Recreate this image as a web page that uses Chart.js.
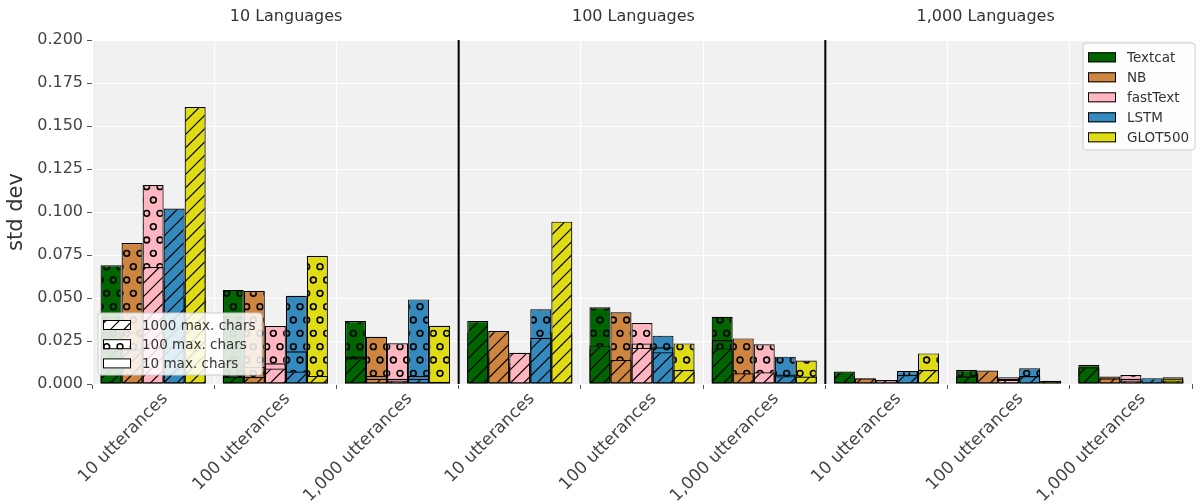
<!DOCTYPE html>
<html>
<head>
<meta charset="utf-8">
<script src="https://cdn.jsdelivr.net/npm/chart.js@4.4.1/dist/chart.umd.min.js"></script>
<style>
  html, body { margin: 0; padding: 0; background: #fff; }
  #wrap { width: 1202px; height: 503px; }
</style>
</head>
<body>
<div id="wrap"><canvas id="chart" width="1202" height="503"></canvas></div>
<script>
const categories = [
    '10 utterances', '100 utterances', '1,000 utterances',
    '10 utterances', '100 utterances', '1,000 utterances',
    '10 utterances', '100 utterances', '1,000 utterances'
];
const panelTitles = ['10 Languages', '100 Languages', '1,000 Languages'];
const models = ['Textcat', 'NB', 'fastText', 'LSTM', 'GLOT500'];
const modelColors = ['#006400', '#cd853f', '#ffb6c1', '#348abd', '#e0dc14'];
const charLabels = ['1000 max. chars', '100 max. chars', '10 max. chars'];

// std dev per category. *1000 = hatched, *100 = circles, *10 = outline only
const textcat1000 = [0.022, 0.004, 0.015, 0.0366, 0.0223, 0.0207, 0.0072, 0.0045, 0.0097];
const textcat100  = [0.069, 0.0547, 0.0366, 0.030, 0.0446, 0.0391, 0.005, 0.0081, 0.011];
const textcat10   = [0.030, 0.012, 0.016, 0.020, 0.020, 0.0256, 0.004, 0.004, 0.009];

const nb1000 = [0.020, 0.004, 0.003, 0.0308, 0.014, 0.0062, 0.0033, 0.0078, 0.0033];
const nb100  = [0.082, 0.054, 0.0275, 0.020, 0.0417, 0.0265, 0.002, 0.005, 0.0043];
const nb10   = [0.030, 0.010, 0.0048, 0.015, 0.013, 0.005, 0.003, 0.006, 0.003];

const fasttext1000 = [0.068, 0.009, 0.002, 0.0182, 0.021, 0.0068, 0.0023, 0.0025, 0.002];
const fasttext100  = [0.1157, 0.0337, 0.0237, 0.012, 0.0355, 0.0231, 0.0015, 0.0039, 0.0052];
const fasttext10   = [0.035, 0.012, 0.003, 0.010, 0.0236, 0.006, 0.002, 0.003, 0.003];

const lstm1000 = [0.102, 0.0072, 0.003, 0.0269, 0.0184, 0.0045, 0.0052, 0.0046, 0.0033];
const lstm100  = [0.060, 0.0513, 0.0492, 0.0434, 0.0281, 0.0159, 0.0076, 0.0091, 0.002];
const lstm10   = [0.050, 0.019, 0.0048, 0.025, 0.0213, 0.0055, 0.004, 0.004, 0.002];

const glot1000 = [0.161, 0.0047, 0.0013, 0.0944, 0.0081, 0.0043, 0.0081, 0.0019, 0.002];
const glot100  = [0.090, 0.0746, 0.0339, 0.030, 0.0236, 0.0136, 0.0178, 0.001, 0.0039];
const glot10   = [0.050, 0.0045, 0.001, 0.030, 0.007, 0.004, 0.007, 0.0015, 0.0032];

const seriesByModel = [
    [textcat1000, textcat100, textcat10],
    [nb1000, nb100, nb10],
    [fasttext1000, fasttext100, fasttext10],
    [lstm1000, lstm100, lstm10],
    [glot1000, glot100, glot10]
];

const FONT = "'DejaVu Sans', sans-serif";
const STEP = 40 / 3;

const ctx = document.getElementById('chart').getContext('2d');

// matplotlib-like hatch tiles ('/' and 'o')
function makePattern(color, kind) {
    const c = document.createElement('canvas');
    c.width = 40;
    c.height = kind === 'circles' ? 80 : 40;
    const g = c.getContext('2d');
    g.fillStyle = color;
    g.fillRect(0, 0, c.width, c.height);
    g.strokeStyle = '#000';
    if (kind === 'lines') {
        g.lineWidth = 1.2;
        for (let k = -1; k <= 7; k++) {
            g.beginPath();
            g.moveTo(k * STEP - 50, 50);
            g.lineTo(k * STEP + 50, -50);
            g.stroke();
        }
    } else {
        g.lineWidth = 1.6;
        for (let r = 0; r <= 6; r++) {
            const off = r % 2 ? STEP / 2 : 0;
            for (let col = -1; col <= 3; col++) {
                g.beginPath();
                g.arc(col * STEP + off, r * STEP, 2.9, 0, Math.PI * 2);
                g.stroke();
            }
        }
    }
    return ctx.createPattern(c, 'repeat');
}

const datasets = [];
models.forEach((m, i) => {
    const [d1000, d100, d10] = seriesByModel[i];
    const base = { stack: m, borderColor: '#000', borderWidth: 1.2, borderSkipped: false };
    datasets.push({ ...base, label: m + ' 1000', data: d1000, backgroundColor: makePattern(modelColors[i], 'lines') });
    datasets.push({ ...base, label: m + ' 10', data: d10, backgroundColor: 'rgba(0,0,0,0)' });
    datasets.push({ ...base, label: m + ' 100', data: d100, backgroundColor: makePattern(modelColors[i], 'circles') });
});

const legendPatches = [makePattern('#fff', 'lines'), makePattern('#fff', 'circles'), '#fff'];

function drawLegend(c, box, rows, items) {
    c.save();
    c.beginPath();
    c.roundRect(box.x, box.y, box.w, box.h, 3);
    c.fillStyle = 'rgba(255,255,255,0.85)';
    c.fill();
    c.strokeStyle = '#cccccc';
    c.lineWidth = 1;
    c.stroke();
    items.forEach((it, k) => {
        const cy = rows.y0 + k * rows.step;
        c.fillStyle = it.fill;
        c.fillRect(box.x + 5, cy - 5, 28, 10);
        c.strokeStyle = '#000';
        c.strokeRect(box.x + 5.5, cy - 4.5, 27, 9);
        c.fillStyle = '#333';
        c.font = '13.5px ' + FONT;
        c.textBaseline = 'middle';
        c.textAlign = 'left';
        c.fillText(it.label, box.x + 44, cy + 1);
    });
    c.restore();
}

const overlay = {
    id: 'overlay',
    beforeDraw(chart) {
        const a = chart.chartArea;
        chart.ctx.save();
        chart.ctx.fillStyle = '#f1f1f1';
        chart.ctx.fillRect(a.left, a.top, a.right - a.left, a.bottom - a.top);
        chart.ctx.restore();
    },
    afterDatasetsDraw(chart) {
        const a = chart.chartArea, x = chart.scales.x, c = chart.ctx;
        c.save();
        c.strokeStyle = '#000';
        c.lineWidth = 2;
        [2, 5].forEach(i => {
            const px = (x.getPixelForValue(i) + x.getPixelForValue(i + 1)) / 2;
            c.beginPath();
            c.moveTo(px, a.top);
            c.lineTo(px, a.bottom);
            c.stroke();
        });
        c.restore();
    },
    afterDraw(chart) {
        const c = chart.ctx;
        c.save();
        c.fillStyle = '#333';
        c.font = '16px ' + FONT;
        c.textAlign = 'center';
        c.textBaseline = 'middle';
        const titleX = [0.238, 0.527, 0.82];
        panelTitles.forEach((t, i) => c.fillText(t, chart.width * titleX[i], 17));
        c.restore();

        drawLegend(c, { x: 1083, y: 43, w: 112, h: 107 }, { y0: 57.3, step: 20 },
            models.map((m, i) => ({ label: m, fill: modelColors[i] })));
        drawLegend(c, { x: 98, y: 313, w: 164, h: 62 }, { y0: 325, step: 19.2 },
            charLabels.map((l, i) => ({ label: l, fill: legendPatches[i] })));
    }
};

new Chart(ctx, {
    type: 'bar',
    data: { labels: categories, datasets },
    plugins: [overlay],
    options: {
        responsive: false,
        animation: false,
        events: [],
        layout: { padding: { left: 0, top: 40, right: 10, bottom: 0 } },
        datasets: { bar: { categoryPercentage: 0.86, barPercentage: 1.0 } },
        plugins: { legend: { display: false }, tooltip: { enabled: false } },
        scales: {
            x: {
                grid: { color: '#ffffff', lineWidth: 1, offset: true, tickColor: '#555', tickLength: 5 },
                border: { display: false },
                ticks: {
                    autoSkip: false, minRotation: 45, maxRotation: 45, labelOffset: 12,
                    color: '#444', padding: 0, font: { family: FONT, size: 17 }
                },
                afterFit(s) { s.height = 119; }
            },
            y: {
                stacked: false,
                min: 0, max: 0.2,
                grid: { color: '#ffffff', lineWidth: 1, tickColor: '#555', tickLength: 5 },
                border: { display: false },
                ticks: {
                    stepSize: 0.025, color: '#444', padding: 4,
                    font: { family: FONT, size: 16 },
                    callback: v => v.toFixed(3)
                },
                title: { display: true, text: 'std dev', color: '#333', font: { family: FONT, size: 21 }, padding: { top: 4, bottom: 0 } },
                afterFit(s) { s.width = 92; }
            }
        }
    }
});
</script>
</body>
</html>
